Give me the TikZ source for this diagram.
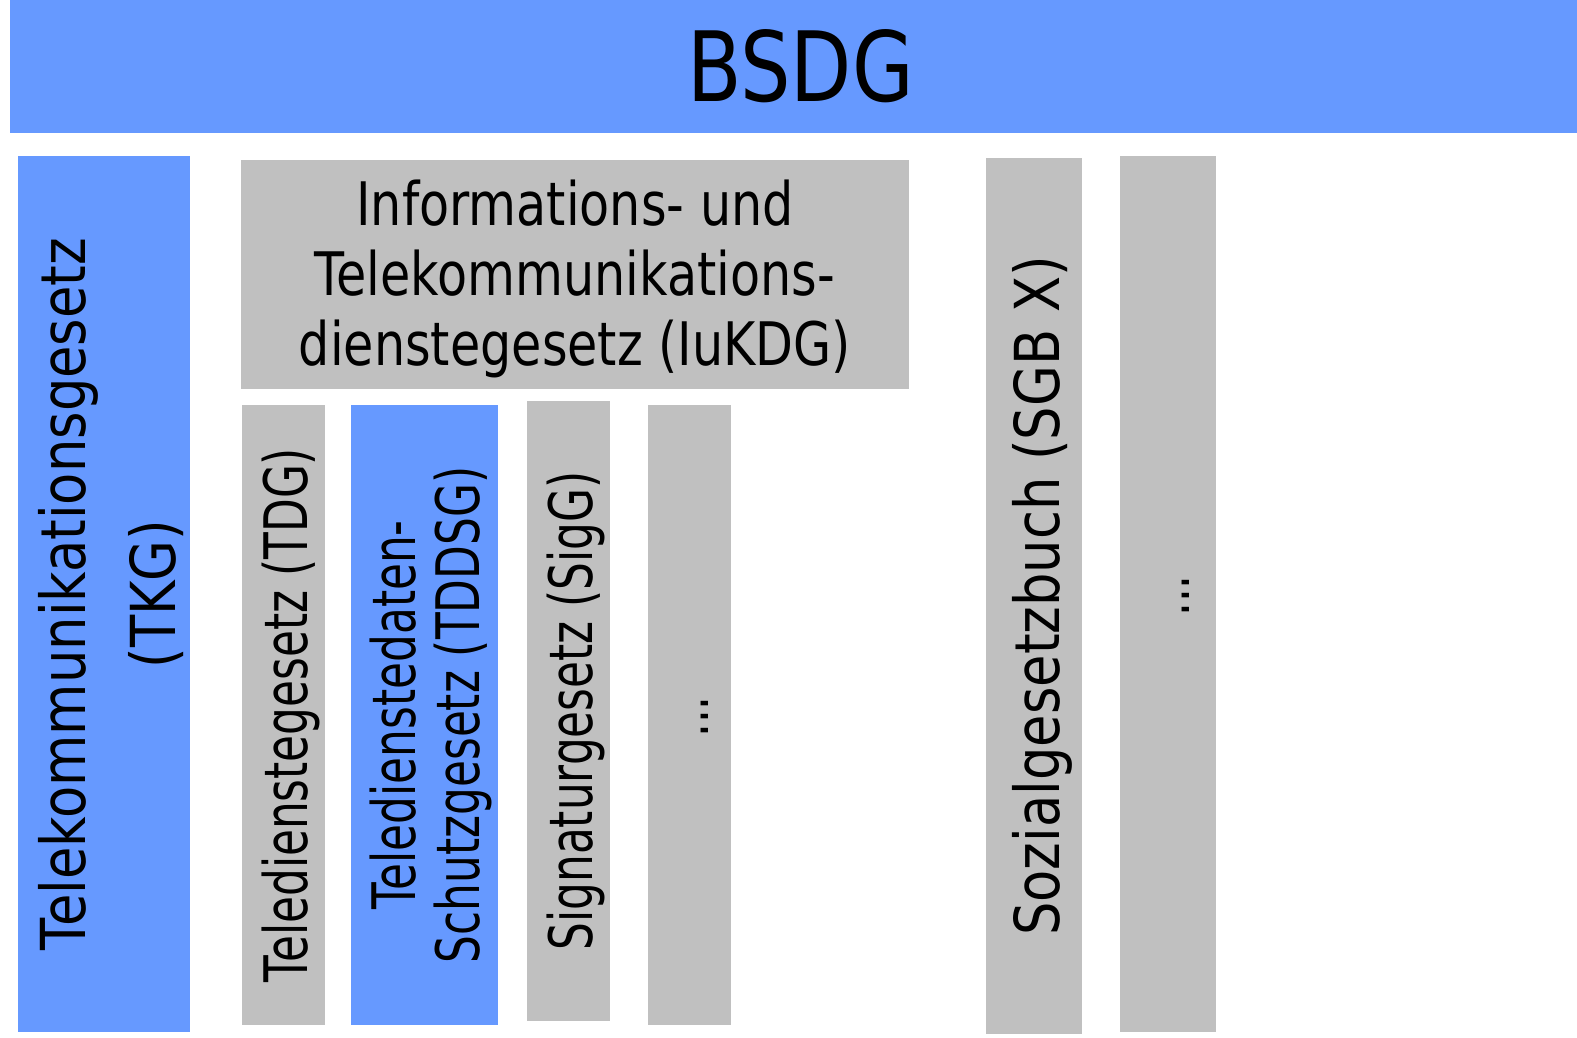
\documentclass[tikz,border=0pt]{standalone}
\usepackage{fontspec}
\setmainfont[FakeStretch=0.82]{DejaVu Sans}
\newfontfamily\narrowfont[FakeStretch=0.73]{DejaVu Sans}
\newfontfamily\widefont[FakeStretch=0.85]{DejaVu Sans}
\usetikzlibrary{positioning}

\definecolor{lawblue}{HTML}{6699FF}
\definecolor{lawgray}{HTML}{C0C0C0}

\begin{document}
\begin{tikzpicture}[x=1pt,y=-1pt,
  lawbox/.style={inner sep=0pt,align=center,font=\fontsize{60}{70}\selectfont},
  blue box/.style={lawbox,fill=lawblue},
  gray box/.style={lawbox,fill=lawgray},
  upright/.style={rotate=90,inner sep=0pt,align=center,font=\narrowfont\fontsize{60}{64}\selectfont}]
\useasboundingbox (0,0) rectangle (1577,1037);

% top level
\node[blue box,minimum width=1567pt,minimum height=133pt] (bsdg) at (793.5,66.5) {};
\node[lawbox,font=\fontsize{97}{110}\selectfont] (bsdg-text) at ([xshift=7pt]bsdg.center) {BSDG};
\node[gray box,minimum width=668pt,minimum height=229pt] (iukdg) at (575,274.5) {};
\node[lawbox] (iukdg-text) at ([yshift=-4pt]iukdg.center) {Informations- und\\Telekommunikations-\\dienstegesetz (IuKDG)};

% columns (boxes)
\node[blue box,minimum width=172pt,minimum height=876pt] (tkg) at (104,594) {};
\node[gray box,minimum width=83pt,minimum height=620pt] (tdg) at (283.5,715) {};
\node[blue box,minimum width=147pt,minimum height=620pt] (tddsg) at (424.5,715) {};
\node[gray box,minimum width=83pt,minimum height=620pt] (sigg) at (568.5,711) {};
\node[gray box,minimum width=83pt,minimum height=620pt] (more1) at (689.5,715) {};
\node[gray box,minimum width=96pt,minimum height=876pt] (sgb) at (1034,596) {};
\node[gray box,minimum width=96pt,minimum height=876pt] (more2) at (1168,594) {};

% columns (texts)
\node[upright,font=\widefont\fontsize{62}{90}\selectfont] (tkg-text) at ([xshift=7pt]tkg.center) {Telekommunikationsgesetz\\(TKG)};
\node[upright] (tdg-text) at ([xshift=7pt]tdg.center) {Teledienstegesetz (TDG)};
\node[upright] (tddsg-text) at ([xshift=6pt]tddsg.center) {Teledienstedaten-\\Schutzgesetz (TDDSG)};
\node[upright] (sigg-text) at ([xshift=7pt]sigg.center) {Signaturgesetz (SigG)};
\node[upright] (more1-text) at ([xshift=15pt,yshift=-2pt]more1.center) {...};
\node[upright,font=\widefont\fontsize{62}{70}\selectfont] (sgb-text) at ([xshift=8pt]sgb.center) {Sozialgesetzbuch (SGB X)};
\node[upright] (more2-text) at ([xshift=18pt,yshift=-2pt]more2.center) {...};
\end{tikzpicture}
\end{document}
